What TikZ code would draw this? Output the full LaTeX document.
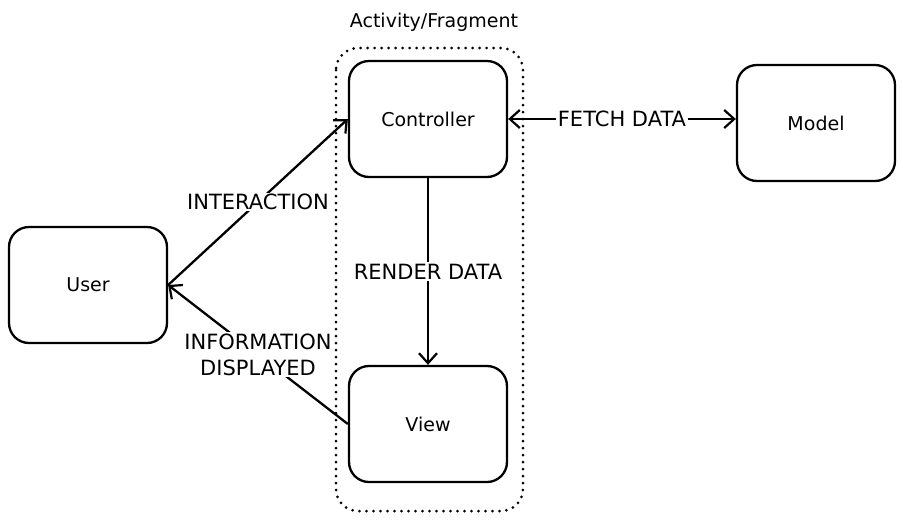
\documentclass[tikz,border=0pt]{standalone}
\usepackage{fontspec}
\setmainfont{DejaVu Sans}
\usetikzlibrary{arrows.meta}

\begin{document}
\begin{tikzpicture}[x=1pt,y=-1pt,
    box/.style={draw,line width=2.3pt,rounded corners=20pt,minimum width=158pt,minimum height=116pt,font=\fontsize{19}{22}\selectfont},
    tip/.tip={Straight Barb[length=10pt,width=18pt,line width=2.2pt]},
    flow/.style={line width=2.3pt,-tip},
    lbl/.style={fill=white,inner sep=2pt,font=\fontsize{21}{26}\selectfont,align=center}]
    \useasboundingbox (0,0) rectangle (903,520);
    % container
    \draw[line width=3pt,line cap=round,dash pattern=on 0pt off 7pt,rounded corners=22pt] (336,48) rectangle (523,511);
    \node[font=\fontsize{19}{22}\selectfont] (frame) at (434,22) {Activity/Fragment};
    % boxes
    \node[box] (user) at (88,285) {User};
    \node[box] (ctrl) at (428,119) {Controller};
    \node[box] (view) at (428,424) {View};
    \node[box] (model) at (816,123) {Model};
    % connectors
    \draw[flow] (user.east) -- (ctrl.west) node[lbl,pos=0.5,inner sep=1pt] {INTERACTION};
    \draw[flow] (view.west) -- (user.east) node[lbl,pos=0.5] {INFORMATION\\DISPLAYED};
    \draw[flow] (ctrl.south) -- (view.north) node[lbl,pos=0.5] {RENDER DATA};
    \draw[flow,tip-tip] (ctrl.east) -- (model.west |- ctrl.east) node[lbl,pos=0.5] {FETCH DATA};
\end{tikzpicture}
\end{document}
